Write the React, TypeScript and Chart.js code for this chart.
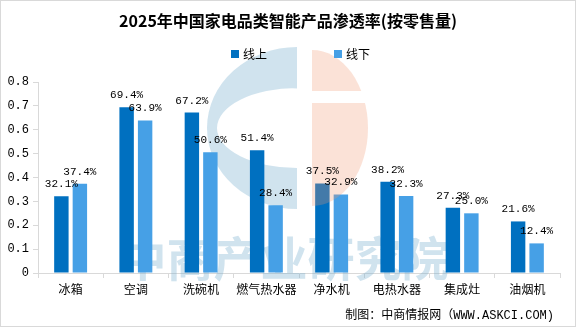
import React, { useEffect, useRef } from "react";
import { Chart, registerables } from "chart.js";

Chart.register(...registerables);

const TITLE = "2025年中国家电品类智能产品渗透率(按零售量)";
const SOURCE = "制图：中商情报网（WWW.ASKCI.COM)";
const WATERMARK = "中商产业研究院";
const categories = ["冰箱", "空调", "洗碗机", "燃气热水器", "净水机", "电热水器", "集成灶", "油烟机"];
const seriesNames = ["线上", "线下"];
const online = [0.321, 0.694, 0.672, 0.514, 0.375, 0.382, 0.273, 0.216];
const offline = [0.374, 0.639, 0.506, 0.284, 0.329, 0.323, 0.25, 0.124];
const seriesColors = ["#0070C0", "#46A0E6"];
const yTicks = [0, 0.1, 0.2, 0.3, 0.4, 0.5, 0.6, 0.7, 0.8];

const CJK = "'Noto Sans CJK SC', 'Noto Sans', sans-serif";
const MONO = "'Liberation Mono', 'DejaVu Sans Mono', monospace";

const decorPlugin = {
  id: "decor",
  beforeDraw(chart: any) {
    const ctx = chart.ctx;
    ctx.save();
    ctx.fillStyle = "#ffffff";
    ctx.fillRect(0, 0, chart.width, chart.height);
    ctx.restore();
  },
  beforeDatasetsDraw(chart: any) {
    const ctx = chart.ctx;
    ctx.save();
    // blue "C" of logo
    ctx.fillStyle = "rgba(120,175,205,0.35)";
    ctx.beginPath();
    ctx.ellipse(297, 128, 90, 81, 0, Math.PI / 2, Math.PI * 1.5);
    ctx.closePath();
    ctx.ellipse(297, 128, 80, 40, 0, Math.PI / 2, Math.PI * 1.5);
    ctx.closePath();
    ctx.fill("evenodd");
    // watermark text
    ctx.font = `bold 47px ${CJK}`;
    ctx.textAlign = "center";
    ctx.textBaseline = "middle";
    ctx.fillText(WATERMARK, 284, 258);
    ctx.restore();
  },
  afterDatasetsDraw(chart: any) {
    const ctx = chart.ctx;
    // orange half of logo
    ctx.save();
    ctx.beginPath();
    ctx.rect(312, 40, 70, 51);
    ctx.rect(312, 103, 70, 120);
    ctx.clip();
    ctx.fillStyle = "rgba(240,150,110,0.28)";
    ctx.beginPath();
    ctx.ellipse(312, 128, 56, 78, 0, -Math.PI / 2, Math.PI / 2);
    ctx.closePath();
    ctx.fill();
    ctx.restore();

    // value labels
    ctx.save();
    ctx.font = `11px ${MONO}`;
    ctx.fillStyle = "#000";
    ctx.textAlign = "center";
    ctx.textBaseline = "alphabetic";
    chart.data.datasets.forEach((ds: any, di: number) => {
      const meta = chart.getDatasetMeta(di);
      meta.data.forEach((bar: any, i: number) => {
        const v = ds.data[i];
        ctx.fillText((v * 100).toFixed(1) + "%", bar.x, bar.y - 9);
      });
    });
    ctx.restore();
  },
  afterDraw(chart: any) {
    const ctx = chart.ctx;
    ctx.save();
    // title
    ctx.fillStyle = "#000";
    ctx.font = `bold 16px ${CJK}`;
    ctx.textAlign = "center";
    ctx.textBaseline = "middle";
    ctx.fillText(TITLE, 288, 21);
    // legend
    ctx.font = `12px ${CJK}`;
    ctx.textAlign = "left";
    const legendX = [231, 334];
    chart.data.datasets.forEach((ds: any, i: number) => {
      ctx.fillStyle = ds.backgroundColor;
      ctx.fillRect(legendX[i], 50, 8, 8);
      ctx.fillStyle = "#000";
      ctx.fillText(ds.label, legendX[i] + 12, 54);
    });
    // source
    ctx.font = `12px ${MONO.replace("monospace", "")}${CJK}`;
    ctx.textAlign = "right";
    ctx.fillText(SOURCE, 554, 316);
    // border
    ctx.strokeStyle = "#d9d9d9";
    ctx.lineWidth = 1;
    ctx.strokeRect(0.5, 0.5, chart.width - 1, chart.height - 1);
    ctx.restore();
  },
};

export default function App() {
  const ref = useRef<HTMLCanvasElement>(null);
  useEffect(() => {
    document.body.style.margin = "0";
    const chart = new Chart(ref.current as HTMLCanvasElement, {
      type: "bar",
      data: {
        labels: categories,
        datasets: [
          {
            label: seriesNames[0],
            data: online,
            backgroundColor: seriesColors[0],
            barPercentage: 0.78,
            categoryPercentage: 0.567,
          },
          {
            label: seriesNames[1],
            data: offline,
            backgroundColor: seriesColors[1],
            barPercentage: 0.78,
            categoryPercentage: 0.567,
          },
        ],
      },
      options: {
        animation: false,
        responsive: false,
        devicePixelRatio: 1,
        layout: { padding: { top: 82, left: 0, right: 16, bottom: 24 } },
        plugins: {
          legend: { display: false },
          title: { display: false },
          tooltip: { enabled: false },
        },
        scales: {
          y: {
            min: 0,
            max: 0.8,
            afterFit: (s: any) => {
              s.width = 38;
            },
            afterBuildTicks: (s: any) => {
              s.ticks = yTicks.map((v) => ({ value: v }));
            },
            ticks: {
              font: { family: MONO, size: 12 },
              color: "#000",
              padding: 4,
              callback: (v: any) => (v === 0 ? "0" : Number(v).toFixed(1)),
            },
            grid: { drawOnChartArea: false, drawTicks: true, tickLength: 5, color: "#d9d9d9" },
            border: { color: "#d9d9d9" },
          },
          x: {
            afterFit: (s: any) => {
              s.height = 30;
            },
            ticks: {
              font: { family: CJK, size: 12 },
              color: "#000",
              padding: 4,
              maxRotation: 0,
              autoSkip: false,
            },
            grid: { drawOnChartArea: false, drawTicks: true, tickLength: 5, color: "#d9d9d9", offset: true },
            border: { color: "#d9d9d9" },
          },
        },
      },
      plugins: [decorPlugin],
    });
    return () => chart.destroy();
  }, []);
  return (
    <div style={{ width: 576, height: 327 }}>
      <canvas ref={ref} width={576} height={327} style={{ display: "block" }} />
    </div>
  );
}
